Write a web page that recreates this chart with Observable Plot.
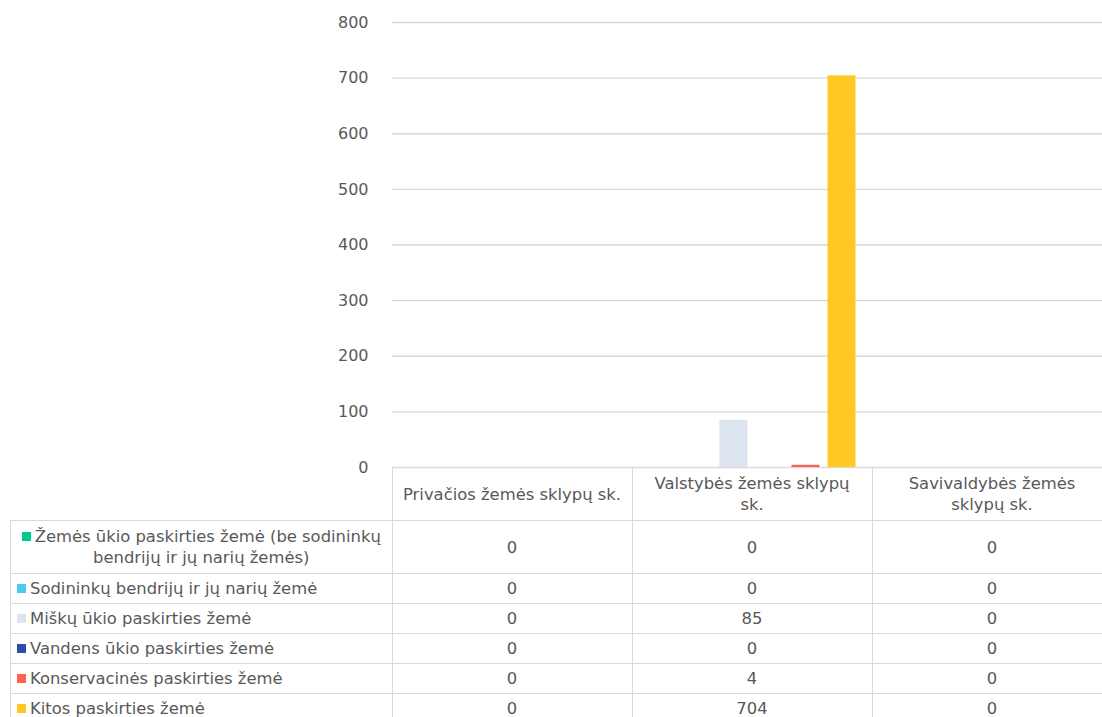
<!DOCTYPE html>
<html>
<head>
<meta charset="utf-8">
<script src="https://cdn.jsdelivr.net/npm/d3@7"></script>
<script src="https://cdn.jsdelivr.net/npm/@observablehq/plot@0.6"></script>
<style>
  html, body { margin: 0; padding: 0; background: #fff; overflow: hidden; }
  #wrap { position: relative; width: 1102px; height: 717px; overflow: hidden; }
  #chart { position: absolute; left: 0; top: 0; width: 1112px; }
  #chart svg { max-width: none !important; }
  #chart svg text { font-size: 16px; font-family: "DejaVu Sans", sans-serif; fill: #595959; }
  table.dt {
    position: absolute; left: 10px; top: 467px; width: 1101.5px;
    border-collapse: collapse; table-layout: fixed;
    font-family: "DejaVu Sans", sans-serif; font-size: 16.4px; color: #595959;
  }
  table.dt td { border: 1px solid #d9d9d9; padding: 0; white-space: nowrap; line-height: 21px; overflow: visible; }
  table.dt td.corner { border: none; }
  table.dt td.hdr { text-align: center; height: 52px; }
  table.dt td.lab { text-align: left; padding-left: 6px; height: 29px; }
  table.dt td.lab.multi { text-align: center; height: 52px; padding-left: 0; }
  table.dt td.val { text-align: center; }
  .sw { display: inline-block; width: 9px; height: 9px; margin-right: 4px; vertical-align: 1px; }
</style>
</head>
<body>
<div id="wrap"><div id="chart"></div></div>
<script>
// Categories (columns of the data table)
const categories = ["Privačios žemės sklypų sk.", "Valstybės žemės sklypų sk.", "Savivaldybės žemės sklypų sk."];
const categoryHeaders = ["Privačios žemės sklypų sk.", "Valstybės žemės sklypų\nsk.", "Savivaldybės žemės\nsklypų sk."];
// Series
const series = [
  "Žemės ūkio paskirties žemė (be sodininkų bendrijų ir jų narių žemės)",
  "Sodininkų bendrijų ir jų narių žemė",
  "Miškų ūkio paskirties žemė",
  "Vandens ūkio paskirties žemė",
  "Konservacinės paskirties žemė",
  "Kitos paskirties žemė"
];
const seriesLabels = [
  "Žemės ūkio paskirties žemė (be sodininkų\nbendrijų ir jų narių žemės)",
  "Sodininkų bendrijų ir jų narių žemė",
  "Miškų ūkio paskirties žemė",
  "Vandens ūkio paskirties žemė",
  "Konservacinės paskirties žemė",
  "Kitos paskirties žemė"
];
const seriesColors = ["#00C98D", "#4FC9F0", "#DCE4F0", "#2F4DA8", "#FF6150", "#FFC822"];
// Values per series, in category order
const zemesUkio = [0, 0, 0];
const sodininku = [0, 0, 0];
const misku = [0, 85, 0];
const vandens = [0, 0, 0];
const konservacines = [0, 4, 0];
const kitos = [0, 704, 0];
const seriesValues = [zemesUkio, sodininku, misku, vandens, konservacines, kitos];
const yTicks = [0, 100, 200, 300, 400, 500, 600, 700, 800];

const data = [];
series.forEach((s, i) => categories.forEach((c, j) => data.push({series: s, category: c, value: seriesValues[i][j]})));

const chart = Plot.plot({
  width: 1112,
  height: 717,
  marginLeft: 391.5,
  marginRight: 0,
  marginTop: 22,
  marginBottom: 250,
  style: {fontFamily: "DejaVu Sans, sans-serif", fontSize: "16px", color: "#595959", background: "transparent", maxWidth: "none"},
  facet: {data, x: "category"},
  fx: {domain: categories, padding: 0, axis: null, label: null},
  x: {domain: series, paddingInner: 0.22, paddingOuter: 0.41, axis: null, label: null},
  y: {domain: [0, 800], ticks: yTicks, tickSize: 0, tickPadding: 24, label: null, tickFormat: d => String(d)},
  color: {domain: series, range: seriesColors},
  marks: [
    Plot.ruleY(yTicks, {stroke: "#d9d9d9", strokeWidth: 1.3}),
    Plot.barY(data, {x: "series", y: "value", fill: "series"})
  ]
});
document.getElementById("chart").appendChild(chart);

// Data table below the plot, built from the same arrays
const table = document.createElement("table");
table.className = "dt";
const colg = document.createElement("colgroup");
[381.5, 240, 240, 240].forEach(w => { const c = document.createElement("col"); c.style.width = w + "px"; colg.appendChild(c); });
table.appendChild(colg);
const hr = document.createElement("tr");
const corner = document.createElement("td"); corner.className = "corner"; hr.appendChild(corner);
categoryHeaders.forEach(h => {
  const td = document.createElement("td"); td.className = "hdr";
  td.innerHTML = h.split("\n").join("<br>");
  hr.appendChild(td);
});
table.appendChild(hr);
series.forEach((s, i) => {
  const tr = document.createElement("tr");
  const lab = document.createElement("td");
  const multi = seriesLabels[i].includes("\n");
  lab.className = "lab" + (multi ? " multi" : "");
  lab.innerHTML = `<span class="sw" style="background:${seriesColors[i]}"></span>` + seriesLabels[i].split("\n").join("<br>");
  tr.appendChild(lab);
  seriesValues[i].forEach(v => {
    const td = document.createElement("td"); td.className = "val";
    td.textContent = String(v);
    tr.appendChild(td);
  });
  table.appendChild(tr);
});
document.getElementById("wrap").appendChild(table);
</script>
</body>
</html>
